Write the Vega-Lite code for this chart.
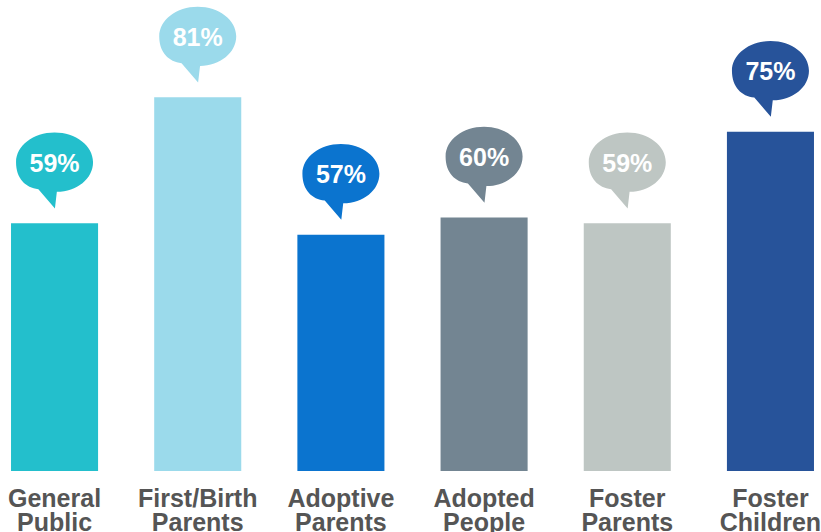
{
  "$schema": "https://vega.github.io/schema/vega-lite/v6.json",
  "width": 817,
  "height": 471,
  "autosize": "none",
  "padding": {"left": 4, "top": 0, "right": 0, "bottom": 61},
  "background": "white",
  "config": {"view": {"stroke": null}},
  "data": {
    "values": [
      {"group": "General|Public", "pct": 59, "label": "59%"},
      {"group": "First/Birth|Parents", "pct": 81, "label": "81%"},
      {"group": "Adoptive|Parents", "pct": 57, "label": "57%"},
      {"group": "Adopted|People", "pct": 60, "label": "60%"},
      {"group": "Foster|Parents", "pct": 59, "label": "59%"},
      {"group": "Foster|Children", "pct": 75, "label": "75%"}
    ]
  },
  "encoding": {
    "x": {
      "field": "group",
      "type": "nominal",
      "sort": null,
      "scale": {"paddingInner": 0.392, "paddingOuter": 0.049},
      "axis": {
        "title": null,
        "domain": false,
        "ticks": false,
        "tickSize": 0,
        "labelAngle": 0,
        "labelPadding": 35,
        "labelBaseline": "alphabetic",
        "labelFont": "Liberation Sans",
        "labelFontSize": 25,
        "labelFontWeight": "bold",
        "labelColor": "#555555",
        "labelLineHeight": 24,
        "labelExpr": "split(datum.label, '|')"
      }
    },
    "y": {
      "field": "pct",
      "type": "quantitative",
      "scale": {"domain": [15.7, 98], "zero": false, "nice": false},
      "axis": null
    },
    "color": {
      "field": "group",
      "type": "nominal",
      "sort": null,
      "scale": {
        "domain": ["General|Public", "First/Birth|Parents", "Adoptive|Parents", "Adopted|People", "Foster|Parents", "Foster|Children"],
        "range": ["#23BFCC", "#9BDAEB", "#0B74CF", "#738592", "#BEC6C3", "#27539A"]
      },
      "legend": null
    }
  },
  "layer": [
    {"mark": {"type": "bar", "clip": true}},
    {
      "mark": {
        "type": "point",
        "filled": true,
        "opacity": 1,
        "size": 5929,
        "yOffset": -61,
        "shape": "M 0.06 0.77 C 0.58 0.77 1 0.425 1 0 C 1 -0.425 0.5523 -0.77 0 -0.77 C -0.5523 -0.77 -1 -0.425 -1 0 C -1 0.425 -0.75 0.66 -0.42 0.7 L 0.01 1.2 L 0.06 0.77 Z"
      }
    },
    {
      "mark": {
        "type": "text",
        "yOffset": -61,
        "dy": 1.5,
        "font": "Liberation Sans",
        "fontSize": 25,
        "fontWeight": "bold",
        "baseline": "middle",
        "align": "center",
        "color": "white"
      },
      "encoding": {
        "text": {"field": "label"},
        "color": {"value": "white"}
      }
    }
  ]
}
